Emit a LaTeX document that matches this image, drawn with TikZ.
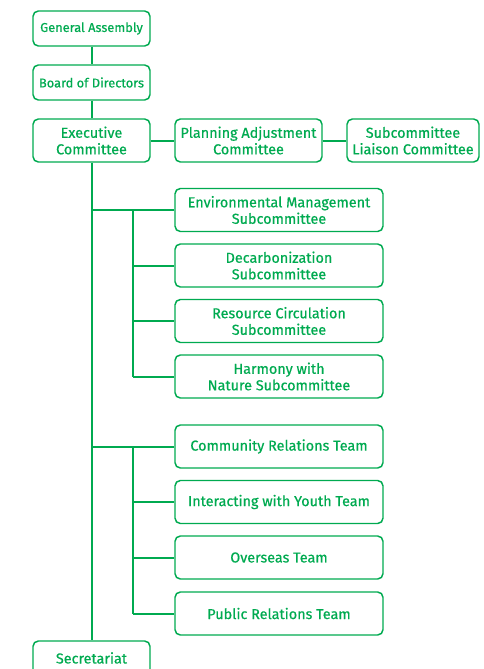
\documentclass[tikz,border=0pt]{standalone}
\usepackage{fontspec}
\setmainfont{Fira Sans}[FakeBold=0.6]
\usepackage{tikz}

\definecolor{orggreen}{RGB}{0,170,80}

\begin{document}
\begin{tikzpicture}[x=0.75pt,y=0.75pt,yscale=-1,xscale=1,
    unit/.style={draw=orggreen, line width=1.1pt, rounded corners=4pt, text=orggreen,
        align=center, inner sep=0pt, font=\fontsize{10.8}{12.4}\selectfont,
        minimum width=87.75pt, minimum height=32.25pt},
    topunit/.style={unit, minimum height=26.25pt, font=\fontsize{9.6}{11}\selectfont},
    subunit/.style={unit, minimum width=156pt},
    link/.style={draw=orggreen, line width=1.5pt}]
        \useasboundingbox (0,0) rectangle (484,669);
        \clip (0,0) rectangle (484,669);

        % Top of the organisation
        \node [topunit] (assembly) at (91.5,28.5) {General Assembly};
        \node [topunit] (board) at (91.5,82.5) {Board of Directors};
        \node [unit] (executive) at (91.5,140.5) {Executive\\Committee};
        \node [unit, minimum width=110.25pt] (planning) at (248.5,140.5) {Planning Adjustment\\Committee};
        \node [unit, minimum width=99pt] (liaison) at (413,140.5) {Subcommittee\\Liaison Committee};
        \node [unit, text height=7.5pt, text depth=6pt] (secretariat) at (91.5,662.5) {Secretariat};

        % Subcommittees
        \node [subunit] (envmgmt) at (279,210) {Environmental Management\\Subcommittee};
        \node [subunit] (decarb) at (279,265.5) {Decarbonization\\Subcommittee};
        \node [subunit] (resource) at (279,321) {Resource Circulation\\Subcommittee};
        \node [subunit] (harmony) at (279,376.5) {Harmony with\\Nature Subcommittee};

        % Teams
        \node [subunit] (community) at (279,446.5) {Community Relations Team};
        \node [subunit] (youth) at (279,502) {Interacting with Youth Team};
        \node [subunit] (overseas) at (279,557.5) {Overseas Team};
        \node [subunit] (publicrel) at (279,613.5) {Public Relations Team};

        % Main line
        \draw [link] (assembly) -- (board);
        \draw [link] (board) -- (executive);
        \draw [link] (executive) -- (planning);
        \draw [link] (planning) -- (liaison);
        \draw [link] (executive.south) -- (secretariat.north);

        % Branches
        \coordinate (subbus) at (133,210);
        \coordinate (teambus) at (133,446.5);
        \draw [link] (executive.south |- envmgmt.west) -- (envmgmt.west);
        \draw [link] (executive.south |- community.west) -- (community.west);
        \draw [link] (subbus) -- (subbus |- harmony.west);
        \draw [link] (teambus) -- (teambus |- publicrel.west);
        \foreach \n in {decarb,resource,harmony}
            \draw [link] (subbus |- \n.west) -- (\n.west);
        \foreach \n in {youth,overseas,publicrel}
            \draw [link] (teambus |- \n.west) -- (\n.west);
\end{tikzpicture}
\end{document}
